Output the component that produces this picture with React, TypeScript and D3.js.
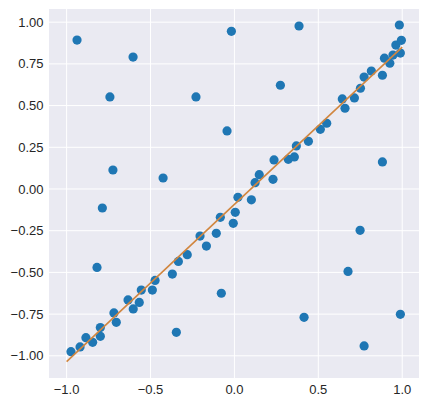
import React from "react";
import * as d3 from "d3";

const xs = [
  -0.938, -0.742, -0.604, -0.724, -0.425, -0.229, -0.018, -0.044, 0.274, 0.385, 0.882, 0.983,
  -0.787, -0.819, -0.346, -0.078, 0.749, 0.677, 0.415, 0.989, 0.773,
  -0.974, -0.92, -0.885, -0.845, -0.799, -0.799, -0.718, -0.704, -0.634, -0.603, -0.567, -0.555,
  -0.489, -0.473, -0.37, -0.334, -0.281, -0.205, -0.167, -0.108, -0.084, -0.007, 0.005, 0.021,
  0.101, 0.123, 0.148, 0.23, 0.236, 0.321, 0.357, 0.369, 0.441, 0.512, 0.55, 0.643, 0.659, 0.715,
  0.751, 0.773, 0.816, 0.882, 0.894, 0.926, 0.945, 0.962, 0.989, 0.995,
];
const ys = [
  0.893, 0.552, 0.791, 0.114, 0.066, 0.552, 0.945, 0.348, 0.622, 0.977, 0.162, 0.983,
  -0.114, -0.47, -0.859, -0.625, -0.248, -0.494, -0.769, -0.751, -0.941,
  -0.975, -0.947, -0.891, -0.919, -0.831, -0.883, -0.743, -0.799, -0.665, -0.719, -0.68, -0.606,
  -0.606, -0.548, -0.51, -0.434, -0.394, -0.282, -0.342, -0.266, -0.17, -0.206, -0.14, -0.05,
  -0.065, 0.038, 0.086, 0.058, 0.174, 0.178, 0.192, 0.258, 0.286, 0.358, 0.394, 0.54, 0.484, 0.546,
  0.604, 0.671, 0.707, 0.682, 0.784, 0.754, 0.803, 0.863, 0.815, 0.891,
];
const lineX = [-1, 1];
const lineY = [-1.035, 0.85];
const xTicks = [-1.0, -0.5, 0.0, 0.5, 1.0];
const yTicks = [-1.0, -0.75, -0.5, -0.25, 0.0, 0.25, 0.5, 0.75, 1.0];

export default function App() {
  const W = 426, H = 403;
  const left = 49, right = 419, top = 9, bottom = 378;
  const x = d3.scaleLinear().domain([-1.105, 1.1]).range([left, right]);
  const y = d3.scaleLinear().domain([-1.133, 1.079]).range([bottom, top]);
  const fmt = (v: number, d: number) => (v < 0 ? "\u2212" : "") + Math.abs(v).toFixed(d);
  const line = d3.line<number>().x((_, i) => x(lineX[i])).y((_, i) => y(lineY[i]));
  return (
    <svg width={W} height={H} style={{ position: "absolute", left: 0, top: 0 }}
      fontFamily="'Liberation Sans', Arial, sans-serif">
      <rect x={0} y={0} width={W} height={H} fill="#ffffff" />
      <rect x={left} y={top} width={right - left} height={bottom - top} fill="#eaeaf2" />
      {xTicks.map((t) => (
        <line key={"gx" + t} x1={x(t)} x2={x(t)} y1={top} y2={bottom} stroke="#ffffff" strokeWidth={1} />
      ))}
      {yTicks.map((t) => (
        <line key={"gy" + t} x1={left} x2={right} y1={y(t)} y2={y(t)} stroke="#ffffff" strokeWidth={1} />
      ))}
      {xs.map((v, i) => (
        <circle key={"p" + i} cx={x(v)} cy={y(ys[i])} r={4.6} fill="#1f77b4" />
      ))}
      <path d={line(lineX) || ""} stroke="#d1863f" strokeWidth={1.6} fill="none" />
      {xTicks.map((t) => (
        <text key={"tx" + t} x={x(t)} y={393.5} textAnchor="middle" fontSize={13} fill="#262626">
          {fmt(t, 1)}
        </text>
      ))}
      {yTicks.map((t) => (
        <text key={"ty" + t} x={43.5} y={y(t)} dy="0.35em" textAnchor="end" fontSize={13} fill="#262626">
          {fmt(t, 2)}
        </text>
      ))}
    </svg>
  );
}
